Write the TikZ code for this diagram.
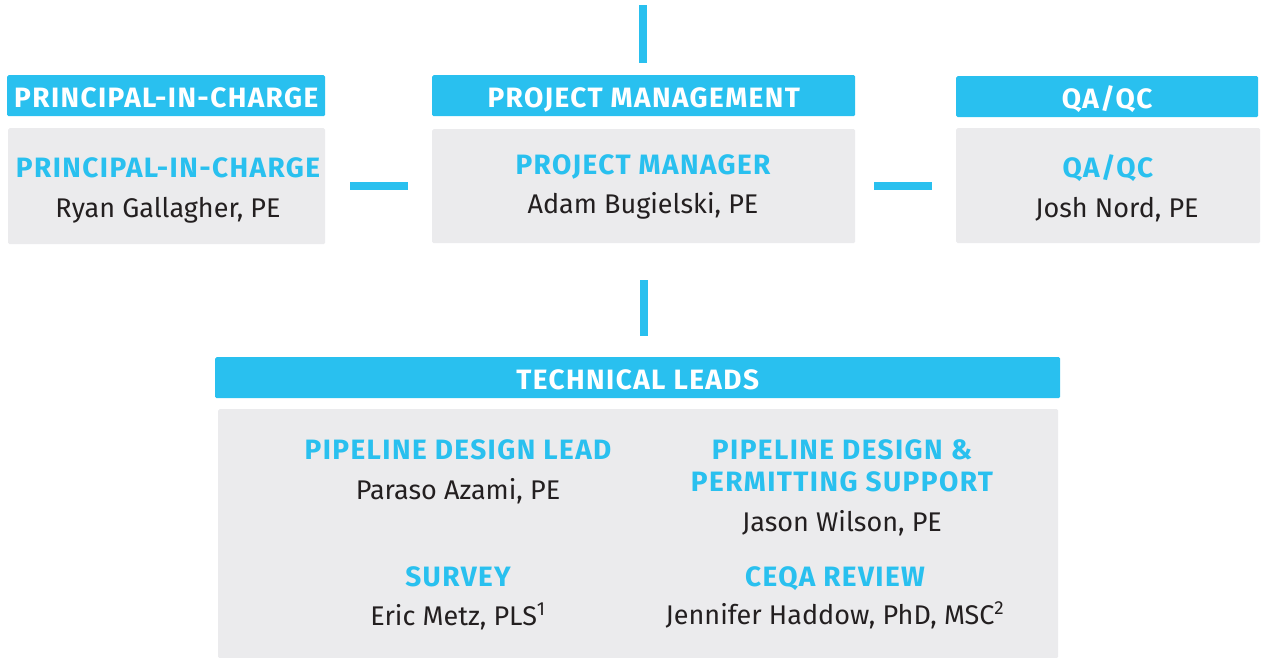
\documentclass[tikz,border=0pt]{standalone}
\usepackage{fontspec}
\setmainfont{Fira Sans}
\newfontfamily\headfont[LetterSpace=5]{Fira Sans}
\definecolor{skyblue}{HTML}{29C0EF}
\definecolor{boxgray}{HTML}{EBEBED}
\definecolor{inkgray}{HTML}{231F20}
\begin{document}
\begin{tikzpicture}[x=1pt,y=-1pt,
  bar/.style={fill=skyblue, text=white, inner sep=0pt, minimum height=41pt,
    text height=24pt, text depth=0pt, rounded corners=1.5pt,
    font=\headfont\fontsize{28}{30}\selectfont\bfseries},
  card/.style={fill=boxgray, inner sep=0pt, rounded corners=1.5pt, anchor=north west},
  role/.style={text=skyblue, anchor=base, inner sep=0pt,
    font=\headfont\fontsize{28}{30}\selectfont\bfseries},
  who/.style={text=inkgray, anchor=base, inner sep=0pt,
    font=\fontsize{27}{30}\selectfont},
  link/.style={skyblue, line width=8pt}]
\useasboundingbox (0,0) rectangle (1268,657);

% top row: principal, project management, qa/qc
\node[bar, minimum width=318pt, anchor=north west] (picbar) at (7,75) {PRINCIPAL-IN-CHARGE};
\node[card, minimum width=317pt, minimum height=116pt] (picbox) at (8,128) {};
\node[role] (picrole) at (168,177) {PRINCIPAL-IN-CHARGE};
\node[who] (picname) at (168,217) {Ryan Gallagher, PE};

\node[bar, minimum width=423pt, anchor=north west] (pmbar) at (432,75) {PROJECT MANAGEMENT};
\node[card, minimum width=423pt, minimum height=114pt] (pmbox) at (432,129) {};
\node[role] (pmrole) at (643,174) {PROJECT MANAGER};
\node[who] (pmname) at (643,213) {Adam Bugielski, PE};

\node[bar, minimum width=302pt, anchor=north west] (qabar) at (956,76) {QA/QC};
\node[card, minimum width=304pt, minimum height=115pt] (qabox) at (956,128) {};
\node[role] (qarole) at (1108,177) {QA/QC};
\node[who] (qaname) at (1117,217) {Josh Nord, PE};

% technical leads
\node[bar, minimum width=845pt, anchor=north west] (techbar) at (215,357) {TECHNICAL LEADS};
\node[card, minimum width=840pt, minimum height=249pt] (techbox) at (218,409) {};
\node[role] (pdrole) at (458,459) {PIPELINE DESIGN LEAD};
\node[who] (pdname) at (458,499) {Paraso Azami, PE};
\node[role] (psrole) at (842,459) {PIPELINE DESIGN \&};
\node[role] (psrole2) at (842,491) {PERMITTING SUPPORT};
\node[who] (psname) at (842,531) {Jason Wilson, PE};
\node[role] (svrole) at (458,586) {SURVEY};
\node[who] (svname) at (458,625) {Eric Metz, PLS\textsuperscript{1}};
\node[role] (cqrole) at (835,586) {CEQA REVIEW};
\node[who] (cqname) at (835,624) {Jennifer Haddow, PhD, MSC\textsuperscript{2}};

% connectors
\coordinate (up) at (643,5);
\draw[link, shorten >=12pt] (up) -- (up |- pmbar.north);
\draw[link, shorten <=25pt, shorten >=24pt] (picbox.east) -- (pmbox.west |- picbox.east);
\draw[link, shorten <=19pt, shorten >=24pt] (pmbox.east |- qabox.west) -- (qabox.west);
\draw[link, shorten <=37pt, shorten >=21pt] (pmbox.south) -- (pmbox.south |- techbar.north);
\end{tikzpicture}
\end{document}
